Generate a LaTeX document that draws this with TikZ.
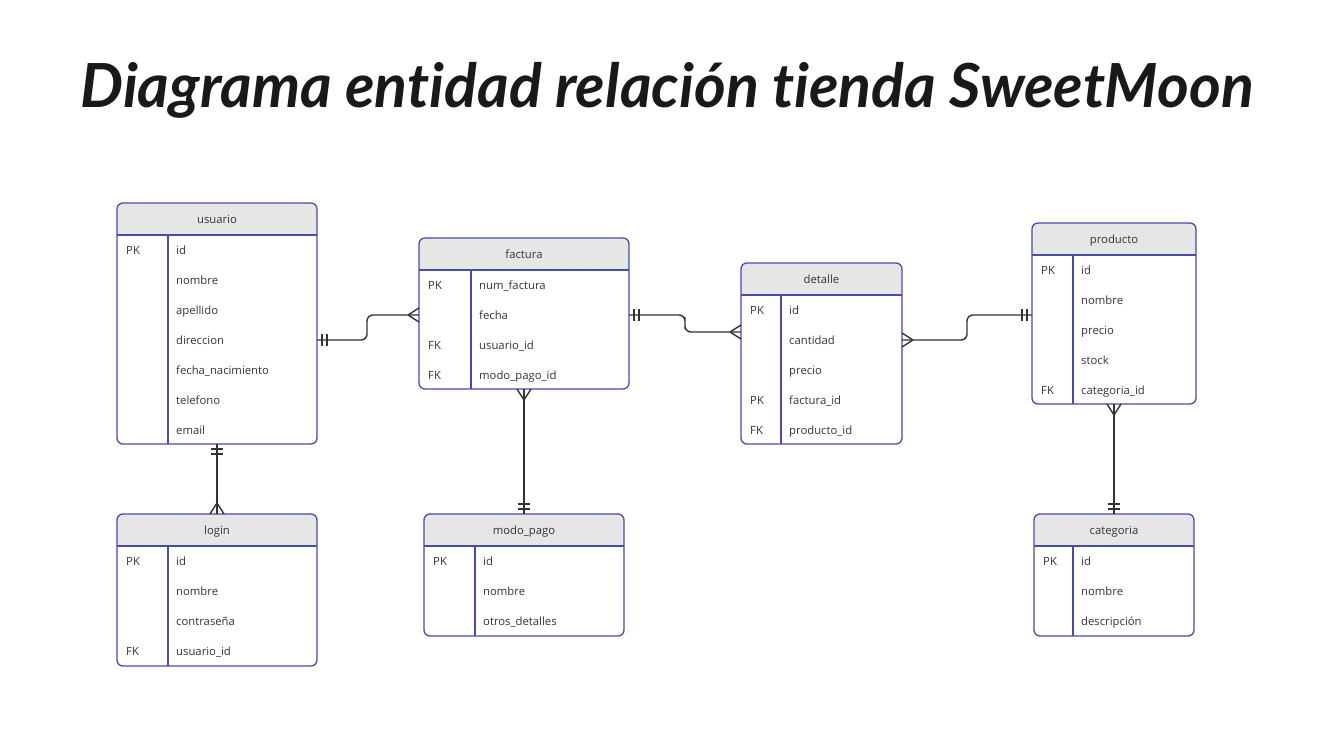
\documentclass[tikz,border=0pt]{standalone}
\usepackage{fontspec}
\usepackage{graphicx}
\usepackage{tikz}
\setmainfont{Open Sans}
\newfontfamily\titlefont{Lato}[Ligatures={NoCommon,NoRequired,NoContextual}]
\usetikzlibrary{calc}

\definecolor{tblblue}{RGB}{70,76,168}
\definecolor{hdgray}{RGB}{230,230,230}
\definecolor{ink}{RGB}{51,51,51}

\tikzset{
  tbl/.style={draw=tblblue, line width=1.3pt, rounded corners=6pt, inner sep=0pt, outer sep=0pt},
  sepline/.style={draw=tblblue, line width=1.3pt},
  keytxt/.style={anchor=west, inner sep=0pt, text height=8pt, text depth=2.5pt, text=ink, font=\fontsize{11.3}{13}\selectfont},
  fldtxt/.style={anchor=west, inner sep=0pt, text height=8pt, text depth=2.5pt, text=ink, font=\fontsize{11.3}{13}\selectfont},
  hdtxt/.style={inner sep=0pt, text height=8pt, text depth=2.5pt, text=ink, font=\fontsize{11.3}{13}\selectfont},
  conn/.style={draw=ink, line width=1.4pt},
}

% #1 name, #2 x1, #3 y1, #4 x2, #5 y2, #6 divider x, #7 title, #8 rows key/field
\newcommand\ertable[8]{%
  \begin{scope}
    \clip[rounded corners=6pt] (#2,#3) rectangle (#4,#5);
    \fill[hdgray] (#2,#3) rectangle (#4,#3+32);
  \end{scope}
  \node[tbl, minimum width={#4-#2}, minimum height={#5-#3}] (#1) at ({(#2+#4)/2},{(#3+#5)/2}) {};
  \draw[sepline] (#2,#3+32) -- (#4,#3+32);
  \draw[sepline] (#6,#3+32) -- (#6,#5);
  \node[hdtxt] (#1-title) at ({(#2+#4)/2},#3+18) {#7};
  \foreach \k/\f [count=\i] in {#8} {
    \ifx\k\empty\else
      \node[keytxt] (#1-k\i) at ({#2+9},{#3+49+30*(\i-1)}) {\k};
    \fi
    \node[fldtxt] (#1-\i) at ({#6+8},{#3+49+30*(\i-1)}) {\f};
  }
}

% crow's foot (many), #1 point on border, #2 angle pointing into table
\newcommand\crowft[2]{%
  \begin{scope}[shift={#1}, rotate=#2]
    \draw[conn] (-11,0) -- (0,-7) (-11,0) -- (0,7);
  \end{scope}
}
% one and only one
\newcommand\onlyone[2]{%
  \begin{scope}[shift={#1}, rotate=#2]
    \draw[conn] (-5,-6) -- (-5,6) (-10,-6) -- (-10,6);
  \end{scope}
}

\begin{document}
\begin{tikzpicture}[x=1pt, y=-1pt]
\useasboundingbox (0,0) rectangle (1323,755);

\node[text=black!90] (title) at (667,90) {\resizebox{1173pt}{!}{\titlefont\bfseries\itshape Diagrama entidad relación tienda SweetMoon}};

\ertable{usuario}{117}{203}{317}{444}{168}{usuario}{PK/id, /nombre, /apellido, /direccion, /fecha\_nacimiento, /telefono, /email}
\ertable{login}{117}{514}{317}{666}{168}{login}{PK/id, /nombre, /contraseña, FK/usuario\_id}
\ertable{factura}{419}{238}{629}{389}{471}{factura}{PK/num\_factura, /fecha, FK/usuario\_id, FK/modo\_pago\_id}
\ertable{modo}{424}{514}{624}{636}{475}{modo\_pago}{PK/id, /nombre, /otros\_detalles}
\ertable{detalle}{741}{263}{902}{444}{781}{detalle}{PK/id, /cantidad, /precio, PK/factura\_id, FK/producto\_id}
\ertable{producto}{1032}{223}{1196}{404}{1073}{producto}{PK/id, /nombre, /precio, /stock, FK/categoria\_id}
\ertable{categoria}{1034}{514}{1194}{636}{1073}{categoria}{PK/id, /nombre, /descripción}

% connector end points
\coordinate (uf-a) at (usuario.east |- 0,340);
\coordinate (uf-b) at (factura.west |- 0,315);
\coordinate (fd-a) at (factura.east |- 0,315);
\coordinate (fd-b) at (detalle.west |- 0,332);
\coordinate (dp-a) at (detalle.east |- 0,340);
\coordinate (dp-b) at (producto.west |- 0,315);
\coordinate (ul-a) at (usuario.south -| login.north);
\coordinate (fm-a) at (factura.south -| modo.north);
\coordinate (pc-a) at (producto.south -| categoria.north);

% relations
\draw[conn, rounded corners=6pt] (uf-a) -| (367,327) |- (uf-b);
\draw[conn, rounded corners=6pt] (fd-a) -| (685,323) |- (fd-b);
\draw[conn, rounded corners=6pt] (dp-a) -| (967,327) |- (dp-b);
\draw[conn] (ul-a) -- (login.north);
\draw[conn] (fm-a) -- (modo.north);
\draw[conn] (pc-a) -- (categoria.north);

\onlyone{(uf-a)}{180}
\crowft{(uf-b)}{0}
\onlyone{(fd-a)}{180}
\crowft{(fd-b)}{0}
\crowft{(dp-a)}{180}
\onlyone{(dp-b)}{0}
\onlyone{(ul-a)}{90}
\crowft{(login.north)}{-90}
\crowft{(fm-a)}{90}
\onlyone{(modo.north)}{-90}
\crowft{(pc-a)}{90}
\onlyone{(categoria.north)}{-90}
\end{tikzpicture}
\end{document}
